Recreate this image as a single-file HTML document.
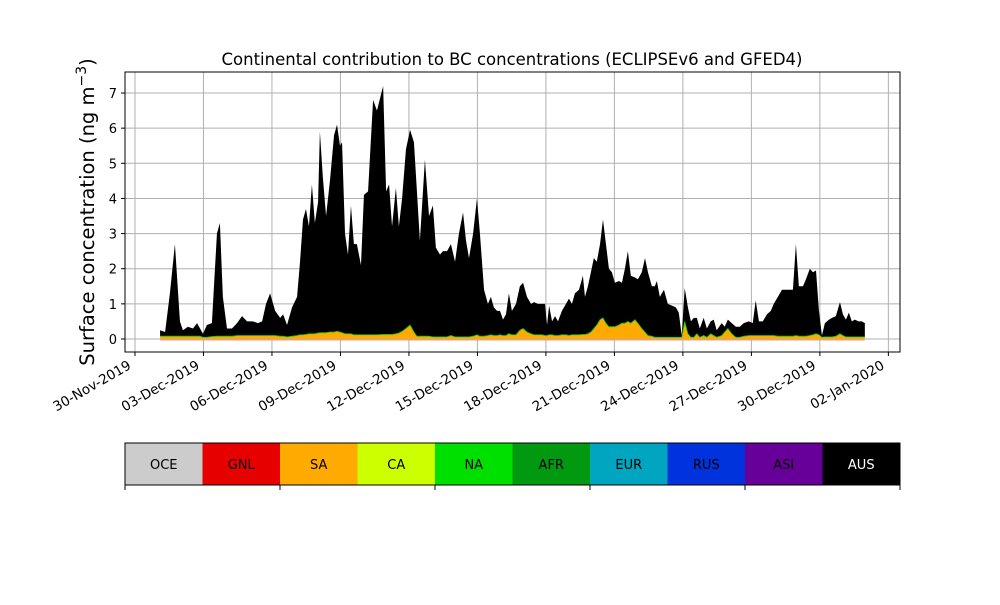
<!DOCTYPE html>
<html><head><meta charset="utf-8"><style>
body{margin:0;background:#fff;font-family:"Liberation Sans","DejaVu Sans",sans-serif}
svg text{font-family:"DejaVu Sans","Liberation Sans",sans-serif}
</style></head><body>
<svg id="chart" width="1000" height="600" xmlns="http://www.w3.org/2000/svg">
<rect width="1000" height="600" fill="#fff"/>
<text x="512" y="65" font-size="16.5" text-anchor="middle">Continental contribution to BC concentrations (ECLIPSEv6 and GFED4)</text>
<text transform="translate(94,212) rotate(-90)" font-size="19.5" text-anchor="middle">Surface concentration (ng m<tspan dy="-8" font-size="14">−3</tspan><tspan dy="8">)</tspan></text>
<g id="grid"></g><g id="series"></g><g id="axes"></g><g id="legend"></g>
</svg>
<script>
const times=[0.10,0.32,0.53,0.75,0.97,1.10,1.32,1.54,1.72,1.85,1.98,2.15,2.37,2.59,2.72,2.85,3.03,3.25,3.47,3.69,3.91,4.17,4.39,4.57,4.74,4.92,5.14,5.36,5.49,5.66,5.88,6.10,6.23,6.36,6.49,6.62,6.75,6.88,7.02,7.10,7.23,7.37,7.54,7.72,7.85,7.98,8.07,8.20,8.33,8.46,8.59,8.72,8.90,9.03,9.21,9.43,9.60,9.87,10.00,10.13,10.26,10.43,10.56,10.70,10.87,11.05,11.22,11.35,11.48,11.70,11.88,12.05,12.18,12.36,12.49,12.67,12.84,13.02,13.19,13.37,13.50,13.63,13.81,13.98,14.11,14.29,14.46,14.59,14.72,14.86,14.99,15.12,15.25,15.38,15.51,15.69,15.86,16.00,16.17,16.35,16.48,16.65,16.83,16.96,17.05,17.14,17.27,17.40,17.53,17.70,17.88,18.01,18.14,18.27,18.45,18.62,18.71,18.84,18.97,19.10,19.23,19.37,19.50,19.63,19.76,19.89,20.02,20.20,20.33,20.46,20.59,20.72,20.90,21.03,21.20,21.34,21.47,21.64,21.77,21.86,21.99,22.17,22.34,22.52,22.69,22.82,22.95,23.08,23.22,23.35,23.48,23.61,23.74,23.91,24.05,24.22,24.35,24.48,24.70,24.83,24.97,25.14,25.32,25.49,25.67,25.89,26.06,26.19,26.33,26.50,26.68,26.85,26.98,27.16,27.34,27.51,27.82,27.95,28.08,28.26,28.39,28.56,28.70,28.83,28.96,29.09,29.22,29.40,29.53,29.70,29.88,30.01,30.14,30.27,30.40,30.53,30.70,30.84,30.97];
const saValues=[0.08,0.08,0.08,0.08,0.08,0.08,0.08,0.08,0.08,0.08,0.05,0.05,0.07,0.08,0.08,0.08,0.08,0.08,0.1,0.1,0.1,0.1,0.1,0.1,0.1,0.1,0.1,0.08,0.08,0.06,0.08,0.1,0.12,0.12,0.13,0.15,0.15,0.15,0.17,0.18,0.18,0.18,0.2,0.2,0.22,0.2,0.18,0.15,0.15,0.15,0.12,0.12,0.12,0.12,0.12,0.12,0.12,0.13,0.13,0.13,0.13,0.15,0.17,0.22,0.3,0.4,0.2,0.08,0.08,0.08,0.08,0.06,0.06,0.06,0.06,0.06,0.1,0.06,0.06,0.06,0.06,0.06,0.08,0.12,0.08,0.08,0.1,0.12,0.1,0.1,0.12,0.1,0.1,0.15,0.12,0.12,0.25,0.3,0.2,0.15,0.12,0.12,0.12,0.1,0.1,0.12,0.12,0.1,0.1,0.12,0.12,0.1,0.12,0.12,0.12,0.13,0.13,0.15,0.2,0.3,0.4,0.55,0.6,0.45,0.35,0.35,0.35,0.4,0.45,0.45,0.5,0.45,0.55,0.45,0.3,0.2,0.1,0.08,0.05,0.05,0.05,0.05,0.05,0.05,0.05,0.05,0.05,0.5,0.15,0.05,0.05,0.15,0.05,0.1,0.05,0.15,0.1,0.05,0.1,0.2,0.3,0.15,0.05,0.05,0.08,0.1,0.1,0.1,0.1,0.1,0.1,0.1,0.1,0.08,0.08,0.08,0.08,0.1,0.08,0.08,0.08,0.1,0.12,0.15,0.12,0.05,0.06,0.06,0.06,0.08,0.15,0.1,0.06,0.06,0.06,0.06,0.06,0.06,0.06];
const ausValues=[0.17,0.12,1.22,2.62,0.42,0.17,0.27,0.22,0.37,0.22,0.10,0.35,0.38,2.92,3.22,1.12,0.22,0.22,0.35,0.55,0.4,0.4,0.35,0.4,0.9,1.2,0.7,0.52,0.62,0.34,0.82,1.1,2.08,3.28,3.57,3.05,4.25,3.15,3.73,5.72,4.42,3.32,4.3,5.6,5.88,5.3,5.42,2.85,2.25,3.65,2.58,2.58,1.98,3.98,4.08,6.68,6.38,7.07,4.07,4.27,3.07,4.15,3.03,3.78,5.1,5.55,5.4,4.12,2.72,5.02,3.42,3.74,2.54,2.34,2.44,2.44,2.6,2.14,2.94,3.54,2.74,2.24,2.92,3.88,2.92,1.32,0.9,1.08,0.8,0.7,0.68,0.45,0.6,1.15,0.68,0.88,1.25,1.3,1.0,0.85,0.93,0.88,0.88,0.9,0.3,0.83,0.38,0.55,0.4,0.68,0.88,1.05,0.88,1.18,1.28,1.67,1.07,1.35,1.7,2.0,1.8,2.15,2.8,2.25,1.65,1.55,1.25,1.25,1.15,1.55,2.0,1.35,1.2,1.25,1.6,2.1,1.8,1.42,1.45,1.6,1.15,1.35,0.95,0.9,0.85,0.7,0.05,0.95,0.75,0.45,0.55,0.45,0.25,0.5,0.25,0.35,0.45,0.2,0.35,0.15,0.25,0.3,0.3,0.3,0.37,0.4,0.35,1.0,0.4,0.4,0.6,0.7,0.9,1.12,1.32,1.32,1.32,2.6,1.42,1.42,1.62,1.9,1.78,1.8,0.68,0.05,0.39,0.49,0.54,0.57,0.9,0.6,0.49,0.69,0.44,0.49,0.44,0.44,0.39];
const yTicks=[0,1,2,3,4,5,6,7];
const xTickDays=[-1,2,5,8,11,14,17,20,23,26,29,32];
const xTickLabels=['30-Nov-2019','03-Dec-2019','06-Dec-2019','09-Dec-2019','12-Dec-2019','15-Dec-2019','18-Dec-2019','21-Dec-2019','24-Dec-2019','27-Dec-2019','30-Dec-2019','02-Jan-2020'];
const legendNames=['OCE','GNL','SA','CA','NA','AFR','EUR','RUS','ASI','AUS'];
const legendColors=['#cccccc','#e60000','#ffaa00','#ccff00','#00e000','#009910','#00a5bf','#0033dd','#660099','#000000'];

const NS='http://www.w3.org/2000/svg';
const L=125,R=900,T=72,B=352;
const xs=d=>157.8+d*22.83;
const ys=v=>339-v*35.14;
function mk(tag,attrs,parent){const e=document.createElementNS(NS,tag);for(const k in attrs)e.setAttribute(k,attrs[k]);parent.appendChild(e);return e;}
const grid=document.getElementById('grid'),series=document.getElementById('series'),axes=document.getElementById('axes'),legend=document.getElementById('legend');
yTicks.forEach(v=>{
  const g=mk('line',{x1:L,x2:R,y1:ys(v),y2:ys(v),stroke:'#b0b0b0','stroke-width':1},grid);
  
  
  mk('line',{x1:L-4,x2:L,y1:ys(v),y2:ys(v),stroke:'#000'},axes);
  const t=mk('text',{x:L-8,y:ys(v)+5,'font-size':13,'text-anchor':'end'},axes);
  t.textContent=v;
  
  
});
xTickDays.forEach((d,i)=>{
  const x=xs(d);
  const g=mk('line',{x1:x,x2:x,y1:T,y2:B,stroke:'#b0b0b0','stroke-width':1},grid);
  
  
  mk('line',{x1:x,x2:x,y1:B,y2:B+4,stroke:'#000'},axes);
  const tx=x-3,ty=B+16;
  const t=mk('text',{x:tx,y:ty,'font-size':13.5,'text-anchor':'end',transform:`rotate(-30 ${tx} ${ty})`},axes);
  t.textContent=xTickLabels[i];
  
  
});
let saTop=times.map((d,i)=>`${xs(d)},${ys(saValues[i])}`);
let base=times.slice().reverse().map(d=>`${xs(d)},${ys(0)}`);
const sa=mk('polygon',{points:saTop.concat(base).join(' '),fill:'#ffaa00'},series);


let ausTop=times.map((d,i)=>`${xs(d)},${ys(saValues[i]+ausValues[i])}`);
let saRev=times.map((d,i)=>`${xs(d)},${ys(saValues[i])}`).reverse();
const aus=mk('polygon',{points:ausTop.concat(saRev).join(' '),fill:'#000'},series);


const na=mk('polyline',{points:saTop.join(' '),fill:'none',stroke:'#00c800','stroke-width':0.8},series);


const gl=mk('line',{x1:xs(times[0]),x2:xs(times[times.length-1]),y1:ys(0)+1,y2:ys(0)+1,stroke:'#f0a080','stroke-width':1},series);


const frame=mk('rect',{x:L,y:T,width:R-L,height:B-T,fill:'none',stroke:'#000','stroke-width':1},axes);


const bw=(R-L)/legendNames.length;
legendNames.forEach((n,i)=>{
  const r=mk('rect',{x:L+i*bw,y:443,width:bw,height:42,fill:legendColors[i]},legend);
  
  
  const t=mk('text',{x:L+i*bw+bw/2,y:469,'font-size':13,'text-anchor':'middle',fill:n==='AUS'?'#fff':'#000'},legend);
  t.textContent=n;
  
  
});
const lf=mk('rect',{x:L,y:443,width:R-L,height:42,fill:'none',stroke:'#000','stroke-width':1},legend);


[0,2,4,6,8,10].forEach(k=>{mk('line',{x1:L+k*bw,x2:L+k*bw,y1:485,y2:490,stroke:'#000'},legend);});
</script>
</body></html>
